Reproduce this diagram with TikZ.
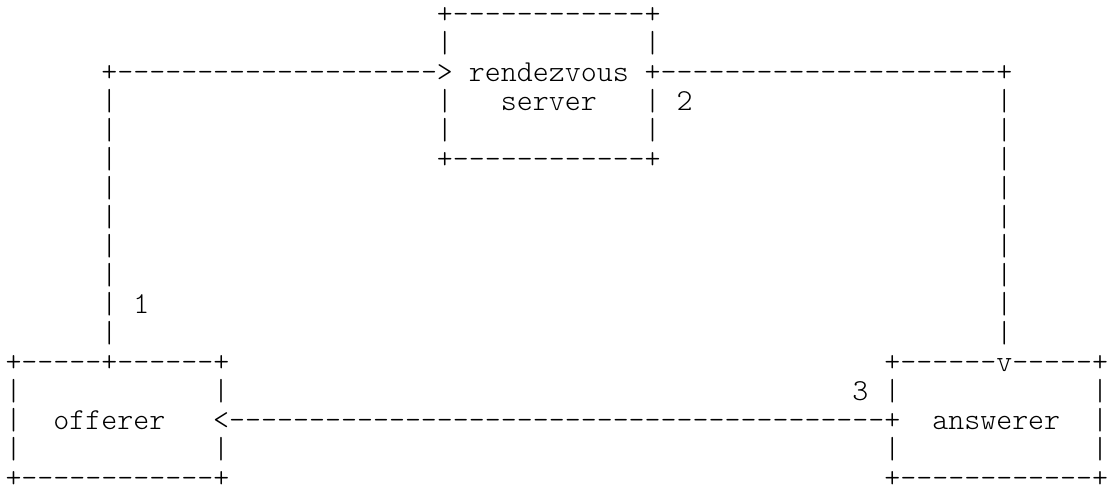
\documentclass[tikz,border=0pt]{standalone}
\usepackage{fontspec}
% thin serif typewriter face for the character-cell drawing
\newfontfamily\asciifont{lmmonolt10-regular}[Extension=.otf]

% a run of n hyphens, boxed one by one so they never merge into dashes
\ExplSyntaxOn
\NewDocumentCommand\dashrun{m}{\prg_replicate:nn{#1}{\hbox{-}}}
\ExplSyntaxOff

% character grid: cell width, line pitch, origin of cell (0,0)
\newcommand\cellw{15.98}
\newcommand\linep{29.0}
\newcommand\gx{5.5}
\newcommand\gy{23.5}

% place a named run of characters at column #2, line #3
\newcommand\asc[4]{%
  \node[ascii] (#1) at ({\gx+\cellw*(#2)},{\gy+\linep*(#3)}) {#4};}

\tikzset{
  ascii/.style={anchor=base west, inner sep=0pt, outer sep=0pt,
    text depth=0pt,
    font=\asciifont\fontsize{30.44pt}{30pt}\selectfont, text=black},
}

\begin{document}
\begin{tikzpicture}[x=1pt,y=-1pt]
\fill[white] (0,0) rectangle (1109,492);
\useasboundingbox (0,0) rectangle (1109,492);

% rendezvous server box
\asc{rv-top}{27}{0}{+\dashrun{12}+}
\asc{rv-l1}{27}{1}{|}
\asc{rv-r1}{40}{1}{|}
\asc{to-rv}{6}{2}{+\dashrun{20}>}
\asc{rv-name}{29}{2}{rendezvous}
\asc{from-rv}{40}{2}{+\dashrun{21}+}
\asc{rv-l3}{27}{3}{|}
\asc{rv-name2}{31}{3}{server}
\asc{rv-r3}{40}{3}{|}
\asc{lab-2}{42}{3}{2}
\asc{rv-l4}{27}{4}{|}
\asc{rv-r4}{40}{4}{|}
\asc{rv-bot}{27}{5}{+\dashrun{12}+}

% the two long vertical legs
\foreach \r in {3,...,11} {
  \asc{leg-l-\r}{6}{\r}{|}
  \asc{leg-r-\r}{62}{\r}{|}
}
\asc{lab-1}{8}{10}{1}

% offerer box
\asc{of-top}{0}{12}{+\dashrun{5}+\dashrun{6}+}
\asc{of-l13}{0}{13}{|}
\asc{of-r13}{13}{13}{|}
\asc{of-l14}{0}{14}{|}
\asc{of-name}{3}{14}{offerer}
\asc{of-l15}{0}{15}{|}
\asc{of-r15}{13}{15}{|}
\asc{of-bot}{0}{16}{+\dashrun{12}+}

% answerer box
\asc{an-top}{55}{12}{+\dashrun{6}v\dashrun{5}+}
\asc{lab-3}{53}{13}{3}
\asc{an-l13}{55}{13}{|}
\asc{an-r13}{68}{13}{|}
\asc{an-to-of}{13}{14}{<\dashrun{41}+}
\asc{an-name}{58}{14}{answerer}
\asc{an-r14}{68}{14}{|}
\asc{an-l15}{55}{15}{|}
\asc{an-r15}{68}{15}{|}
\asc{an-bot}{55}{16}{+\dashrun{12}+}
\end{tikzpicture}
\end{document}
